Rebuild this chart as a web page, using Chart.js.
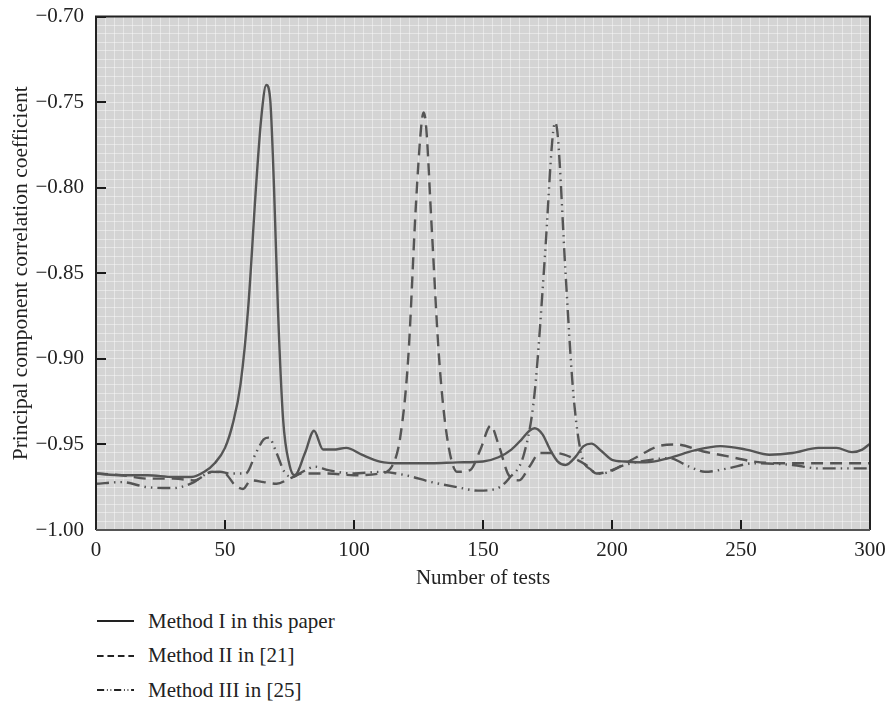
<!DOCTYPE html>
<html>
<head>
<meta charset="utf-8">
<script src="https://cdn.jsdelivr.net/npm/chart.js@4.4.1/dist/chart.umd.min.js"></script>
<style>
  html, body { margin: 0; padding: 0; background: #fff; }
  #wrap { position: relative; width: 886px; height: 705px; overflow: hidden; }
  #chart { position: absolute; left: 0; top: 0; }
  #legend { position: absolute; left: 97px; top: 604px; font-family: "Liberation Serif", serif; font-size: 21px; color: #222; }
  .item { display: flex; align-items: center; height: 34.5px; }
  .item svg { width: 37px; height: 6px; margin-right: 14px; }
</style>
</head>
<body>
<div id="wrap">
  <canvas id="chart" width="886" height="600"></canvas>
  <div id="legend"></div>
</div>
<script>
  // Datos
  const seriesNames = ['Method I in this paper', 'Method II in [21]', 'Method III in [25]'];
  const xTicks = [0, 50, 100, 150, 200, 250, 300];
  const yTicks = [-1.00, -0.95, -0.90, -0.85, -0.80, -0.75, -0.70];

  const method1X = [0, 10, 20, 30, 37, 42, 46, 50, 53, 56, 59, 62, 64, 66, 67.5, 69, 70.5, 72.5, 75, 77, 81, 84.5, 88, 92, 97, 103, 110, 118, 130, 140, 150, 156, 161, 165, 168, 170, 173, 176, 179, 182, 186, 189, 192, 196, 200, 205, 213, 222, 232, 242, 252, 261, 270, 280, 287, 293, 297, 300];
  const method1Y = [-0.967, -0.968, -0.968, -0.969, -0.969, -0.966, -0.961, -0.952, -0.938, -0.915, -0.87, -0.80, -0.76, -0.740, -0.748, -0.80, -0.87, -0.935, -0.962, -0.968, -0.955, -0.942, -0.953, -0.953, -0.952, -0.956, -0.960, -0.961, -0.961, -0.9605, -0.960, -0.9575, -0.953, -0.947, -0.942, -0.9405, -0.944, -0.953, -0.960, -0.962, -0.957, -0.951, -0.9495, -0.954, -0.959, -0.960, -0.9605, -0.958, -0.9535, -0.951, -0.953, -0.956, -0.955, -0.952, -0.952, -0.9545, -0.953, -0.9495];

  const method2X = [0, 10, 20, 30, 38, 45, 50, 54, 57, 60, 65, 70, 75, 80, 90, 100, 110, 115, 118, 121, 124, 126, 127, 128, 130, 133, 136, 140, 145, 149, 153, 156, 160, 164, 168, 172, 178, 185, 190, 194, 200, 210, 218, 225, 235, 245, 255, 265, 280, 290, 300];
  const method2Y = [-0.967, -0.968, -0.970, -0.970, -0.971, -0.966, -0.967, -0.974, -0.976, -0.971, -0.972, -0.973, -0.970, -0.967, -0.967, -0.968, -0.967, -0.962, -0.945, -0.90, -0.81, -0.765, -0.756, -0.765, -0.82, -0.90, -0.945, -0.966, -0.965, -0.953, -0.939, -0.950, -0.968, -0.971, -0.963, -0.955, -0.955, -0.958, -0.962, -0.967, -0.965, -0.957, -0.951, -0.950, -0.954, -0.957, -0.960, -0.961, -0.961, -0.961, -0.961];

  const method3X = [0, 10, 20, 30, 38, 43, 48, 52, 58, 62, 65, 67, 70, 73, 76, 80, 85, 90, 100, 110, 120, 130, 140, 148, 155, 160, 166, 170, 174, 177, 178, 179, 182, 185, 188, 192, 196, 205, 215, 222, 230, 236, 245, 255, 270, 280, 290, 300];
  const method3Y = [-0.973, -0.972, -0.975, -0.9755, -0.972, -0.967, -0.966, -0.967, -0.967, -0.955, -0.947, -0.946, -0.955, -0.966, -0.969, -0.966, -0.963, -0.965, -0.967, -0.966, -0.968, -0.972, -0.975, -0.977, -0.976, -0.970, -0.955, -0.92, -0.84, -0.77, -0.762, -0.77, -0.85, -0.92, -0.955, -0.965, -0.967, -0.962, -0.959, -0.958, -0.963, -0.966, -0.964, -0.961, -0.962, -0.964, -0.964, -0.964];

  const LINE = '#555555';
  const FONT = '"Liberation Serif", "Times New Roman", serif';
  const dashes = [[], [12, 7], [13, 5, 1.5, 5, 1.5, 5]];

  const toPoints = (xs, ys) => xs.map((x, i) => ({ x, y: ys[i] }));
  const minus = v => v.toFixed(2).replace('-', '\u2212');

  // Fondo del área, marco y marcas interiores
  const frame = {
    id: 'frame',
    beforeDraw(chart) {
      const { ctx, chartArea: a } = chart;
      ctx.save();
      ctx.fillStyle = '#d4d4d4';
      ctx.fillRect(a.left, a.top, a.right - a.left, a.bottom - a.top);
      ctx.restore();
    },
    afterDraw(chart) {
      const { ctx, chartArea: a, scales } = chart;
      ctx.save();
      ctx.strokeStyle = '#1a1a1a';
      ctx.lineWidth = 2;
      ctx.beginPath();
      xTicks.forEach(v => {
        const px = Math.round(scales.x.getPixelForValue(v));
        ctx.moveTo(px, a.bottom); ctx.lineTo(px, a.bottom - 10);
      });
      yTicks.forEach(v => {
        const py = Math.round(scales.y.getPixelForValue(v));
        ctx.moveTo(a.left, py); ctx.lineTo(a.left + 10, py);
      });
      ctx.stroke();
      ctx.strokeStyle = '#222';
      ctx.beginPath();
      ctx.moveTo(a.left, a.bottom); ctx.lineTo(a.left, a.top); ctx.lineTo(a.right, a.top); ctx.lineTo(a.right, a.bottom);
      ctx.stroke();
      ctx.strokeStyle = '#555';
      ctx.beginPath();
      ctx.moveTo(a.left, a.bottom); ctx.lineTo(a.right, a.bottom);
      ctx.stroke();
      ctx.restore();
    }
  };

  const datasets = [method1X, method2X, method3X].map((xs, i) => ({
    label: seriesNames[i],
    data: toPoints(xs, [method1Y, method2Y, method3Y][i]),
    borderColor: LINE,
    borderWidth: 2.4,
    borderDash: dashes[i],
    pointRadius: 0,
    fill: false,
    tension: 0.4,
    cubicInterpolationMode: 'monotone'
  }));

  const fineX = Array.from({ length: 85 }, (_, i) => ({ value: i * 300 / 84 }));
  const fineY = Array.from({ length: 61 }, (_, i) => ({ value: -1 + i * 0.005 }));

  new Chart(document.getElementById('chart'), {
    type: 'line',
    data: { datasets },
    plugins: [frame],
    options: {
      responsive: false,
      devicePixelRatio: 1,
      animation: false,
      layout: { padding: { top: 5, right: 16, left: 0, bottom: 0 } },
      plugins: { legend: { display: false }, tooltip: { enabled: false } },
      scales: {
        x: {
          type: 'linear', min: 0, max: 300,
          afterBuildTicks: s => { s.ticks = xTicks.map(value => ({ value })); },
          afterFit: s => { s.height = 70; },
          grid: { display: false },
          border: { display: false },
          ticks: { color: '#222', font: { family: FONT, size: 21 }, padding: 0, maxRotation: 0 },
          title: { display: true, text: 'Number of tests', color: '#222', font: { family: FONT, size: 21 }, padding: { top: 0, bottom: 9 } }
        },
        y: {
          type: 'linear', min: -1, max: -0.7,
          afterBuildTicks: s => { s.ticks = yTicks.map(value => ({ value })); },
          afterFit: s => { s.width = 96; },
          grid: { display: false },
          border: { display: false },
          ticks: { color: '#222', font: { family: FONT, size: 21 }, padding: 4, callback: v => minus(v) },
          title: { display: true, text: 'Principal component correlation coefficient', color: '#222', font: { family: FONT, size: 21.5 }, padding: { top: 8, bottom: 0 } }
        },
        gx: {
          type: 'linear', position: 'top', min: 0, max: 300,
          afterBuildTicks: s => { s.ticks = fineX; },
          afterFit: s => { s.height = 0; },
          ticks: { display: false },
          border: { display: false },
          grid: { color: 'rgba(255,255,255,0.42)', lineWidth: 1, drawTicks: false }
        },
        gy: {
          type: 'linear', position: 'right', min: -1, max: -0.7,
          afterBuildTicks: s => { s.ticks = fineY; },
          afterFit: s => { s.width = 0; },
          ticks: { display: false },
          border: { display: false },
          grid: { color: 'rgba(255,255,255,0.42)', lineWidth: 1, drawTicks: false }
        }
      }
    }
  });

  // Leyenda en HTML, una fila por serie
  const legend = document.getElementById('legend');
  seriesNames.forEach((name, i) => {
    const row = document.createElement('div');
    row.className = 'item';
    const dash = dashes[i].length ? dashes[i].map(d => d * 0.55).join(' ') : 'none';
    row.innerHTML = `<svg viewBox="0 0 37 6"><line x1="0" y1="3" x2="37" y2="3" stroke="#222" stroke-width="2" stroke-dasharray="${dash}"/></svg><span>${name}</span>`;
    legend.appendChild(row);
  });
</script>
</body>
</html>
